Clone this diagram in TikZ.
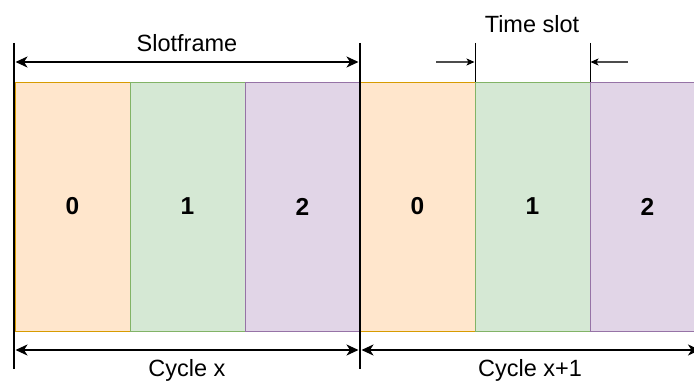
\documentclass[tikz,border=0pt]{standalone}
\usepackage{fontspec}
\setmainfont{Liberation Sans}
\usetikzlibrary{arrows.meta}
\definecolor{ofill}{HTML}{FFE6CC}\definecolor{odraw}{HTML}{D79B00}
\definecolor{gfill}{HTML}{D5E8D4}\definecolor{gdraw}{HTML}{82B366}
\definecolor{pfill}{HTML}{E1D5E7}\definecolor{pdraw}{HTML}{9673A6}
\tikzset{
  slotbox/.style={draw, line width=0.8pt, minimum width=115pt, minimum height=249pt, inner sep=0pt, outer sep=0pt, anchor=north west, font=\fontsize{24.5}{28}\selectfont\bfseries},
  oslot/.style={slotbox, fill=ofill, draw=odraw},
  gslot/.style={slotbox, fill=gfill, draw=gdraw},
  pslot/.style={slotbox, fill=pfill, draw=pdraw},
  lbl/.style={font=\fontsize{23.5}{27}\selectfont, anchor=base, inner sep=0pt},
  dimarrow/.style={line width=1.7pt, {Stealth[length=12pt,width=11pt,inset=3.5pt]}-{Stealth[length=12pt,width=11pt,inset=3.5pt]}},
  sarrow/.style={line width=1.2pt, draw=black!70, -{Stealth[length=8pt,width=7pt,inset=2pt,color=black,fill=black]}},
  bigbar/.style={line width=2.8pt},
  smallbar/.style={line width=0.9pt}
}
\begin{document}
\begin{tikzpicture}[x=1pt,y=-1pt]
\useasboundingbox (0,0) rectangle (694,382);
\clip (0,0) rectangle (694,382);
% slots
\node[oslot] (a0) at (15,82) {0};
\node[gslot] (a1) at (130,82) {1};
\node[pslot] (a2) at (245,82) {2};
\node[oslot] (b0) at (360,82) {0};
\node[gslot] (b1) at (475,82) {1};
\node[pslot] (b2) at (590,82) {2};
% bars
\coordinate (l1) at (14,43); \coordinate (l2) at (14,369);
\coordinate (m1) at (360,43); \coordinate (m2) at (360,369);
\draw[bigbar] (l1) -- (l2);
\draw[bigbar] (m1) -- (m2);
\coordinate (t1) at (475,43);
\coordinate (t2) at (590,43);
\draw[smallbar] (t1) -- (b1.north west);
\draw[smallbar] (t2) -- (b2.north west);
% slotframe arrow
\coordinate (sfL) at (15.5,62); \coordinate (sfR) at (358.5,62);
\draw[dimarrow] (sfL) -- (sfR);
\node[lbl] (sf) at (187,52) {Slotframe};
% time slot arrows
\coordinate (tsa) at (436,62); \coordinate (tsb) at (474.5,62);
\coordinate (tsc) at (628,62); \coordinate (tsd) at (590.5,62);
\draw[sarrow] (tsa) -- (tsb);
\draw[sarrow] (tsc) -- (tsd);
\node[lbl] (ts) at (532,33) {Time slot};
% cycle arrows
\coordinate (cL) at (15.5,350); \coordinate (cM1) at (358.5,350);
\coordinate (cM2) at (361.5,350); \coordinate (cR) at (700,350);
\draw[dimarrow] (cL) -- (cM1);
\draw[dimarrow] (cM2) -- (cR);
\node[lbl] (cx) at (187,377) {Cycle x};
\node[lbl] (cx1) at (530,377) {Cycle x+1};
\end{tikzpicture}
\end{document}
